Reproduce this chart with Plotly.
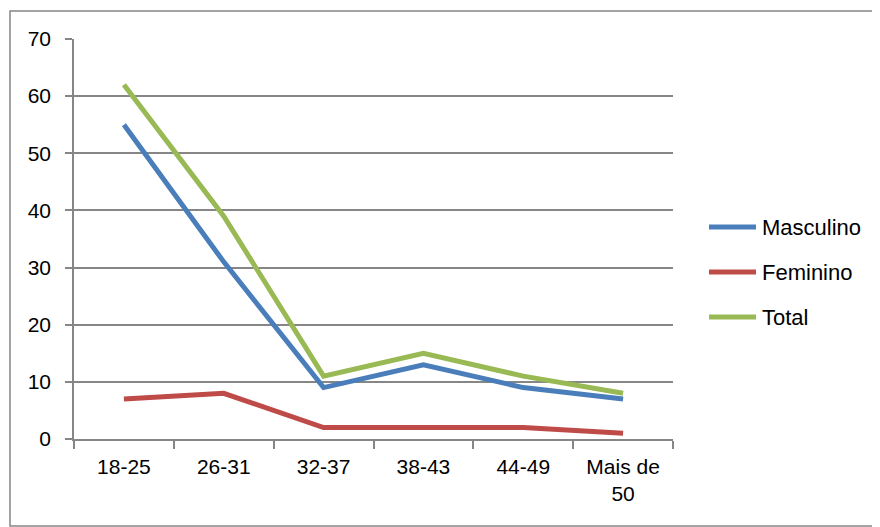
import plotly.graph_objects as go

categories = ["18-25", "26-31", "32-37", "38-43", "44-49", "Mais de<br>50"]
masculino = [55, 31, 9, 13, 9, 7]
feminino = [7, 8, 2, 2, 2, 1]
total = [62, 39, 11, 15, 11, 8]
series_names = ["Masculino", "Feminino", "Total"]
colors = ["#4A7EBB", "#BE4B48", "#98B954"]

# plot area in page pixels (page has an 8px body margin)
PX0, PX1, PY0, PY1 = 74, 673, 39, 439
W = PX1 - PX0
H = PY1 - PY0
def px(x):
    return (x - PX0) / W
def py(y):
    return (PY1 - y) / H

fig = go.Figure()
for i, (name, vals) in enumerate(zip(series_names, [masculino, feminino, total])):
    fig.add_trace(go.Scatter(
        x=categories, y=vals, name=name, mode="lines",
        line=dict(color=colors[i], width=5),
        showlegend=False,
    ))

family = "'Liberation Sans', Arial, sans-serif"
font = dict(family=family, size=21, color="#000000")
legfont = dict(family=family, size=22, color="#000000")

shapes = [dict(
    type="rect", xref="paper", yref="paper",
    x0=px(10), x1=px(877), y0=py(526), y1=py(11),
    line=dict(color="#868686", width=1.5), fillcolor="rgba(0,0,0,0)",
    layer="below",
)]
annotations = []
leg_y = [227, 272, 317]
for i, name in enumerate(series_names):
    shapes.append(dict(
        type="line", xref="paper", yref="paper",
        x0=px(709), x1=px(756), y0=py(leg_y[i]), y1=py(leg_y[i]),
        line=dict(color=colors[i], width=5),
    ))
    annotations.append(dict(
        text=name, xref="paper", yref="paper",
        x=px(760), y=py(leg_y[i]), xanchor="left", yanchor="middle",
        showarrow=False, font=legfont,
    ))

fig.update_layout(
    width=880, height=527,
    margin=dict(l=PX0 - 8, r=880 - (PX1 - 8), t=PY0 - 8, b=527 - (PY1 - 8)),
    paper_bgcolor="white", plot_bgcolor="white",
    font=font,
    showlegend=False,
    xaxis=dict(
        type="category", tickson="boundaries",
        showline=True, linecolor="#868686", linewidth=1.5,
        ticks="outside", ticklen=8, tickcolor="#868686", tickwidth=1.5,
        showgrid=False, range=[-0.5, 5.5],
        tickfont=font, ticklabelstandoff=8,
    ),
    yaxis=dict(
        range=[0, 70], dtick=10,
        showline=True, linecolor="#868686", linewidth=1.5,
        ticks="outside", ticklen=7, tickcolor="#868686", tickwidth=1.5,
        showgrid=True, gridcolor="#868686", gridwidth=1.5,
        zeroline=False, tickfont=font, ticklabelstandoff=10,
    ),
    shapes=shapes,
    annotations=annotations,
)

fig.write_html("out.html")
